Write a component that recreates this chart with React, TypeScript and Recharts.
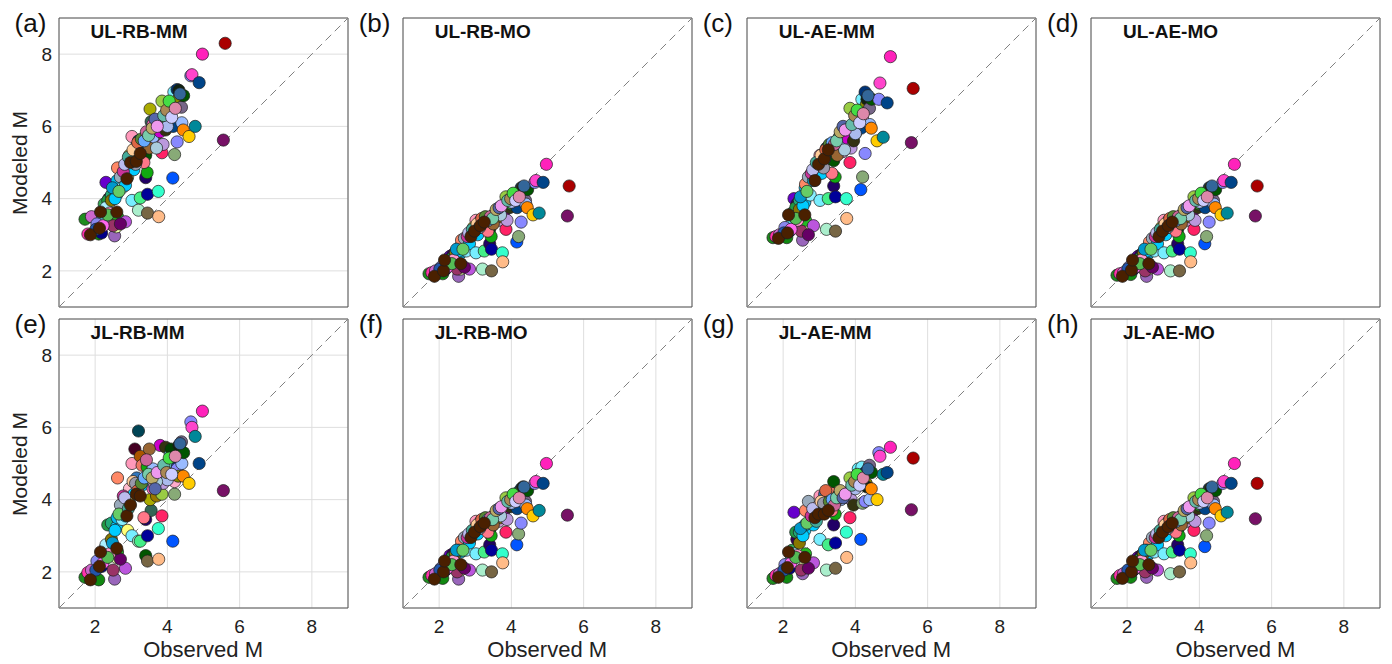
import { ScatterChart, Scatter, XAxis, YAxis, CartesianGrid, ReferenceLine, ReferenceArea } from 'recharts';

// observed magnitude per event (shared by all panels)
const obsM = [
  1.72, 1.80, 1.90, 2.10, 2.18, 2.20, 2.05, 2.25, 2.30, 2.38,
  2.35, 2.45, 2.54, 2.59, 2.62, 2.84, 2.50, 2.60, 2.61, 2.62,
  2.70, 2.75, 2.84, 2.90, 2.95, 3.02, 3.02, 3.07, 3.10, 3.20,
  3.25, 3.20, 3.25, 3.30, 3.30, 3.40, 3.40, 3.44, 3.45, 3.45,
  3.55, 3.52, 3.60, 3.65, 3.70, 3.60, 3.75, 3.76, 3.80, 3.85,
  3.85, 3.88, 3.95, 4.00, 4.08, 4.10, 4.15, 4.16, 4.18, 4.20,
  4.20, 4.27, 4.27, 4.30, 4.32, 4.39, 4.40, 4.44, 4.45, 4.60,
  4.65, 4.68, 4.77, 4.88, 4.97, 5.55, 5.60, 2.30, 2.70, 2.95,
  3.35, 3.15, 3.50, 2.45, 2.55, 4.00, 3.70,
  2.40, 2.48, 2.66, 2.78, 2.82, 2.92, 3.05, 3.12, 3.18, 3.28,
  3.36, 3.42, 3.48, 3.58, 3.66, 3.72, 3.90, 3.98, 4.05, 4.12,
  4.22, 4.35, 2.22, 2.02, 2.35,
  1.87, 2.12, 2.15, 2.60, 2.88, 2.98, 3.14, 3.25,
];

const pointColors = [
  '#1e8c1e', '#ff33aa', '#cc66cc', '#118811', '#000088', '#55ddee', '#8888ee', '#33aa55', '#6600cc', '#330055',
  '#229944', '#22aa77', '#9966bb', '#eeffaa', '#22bb22', '#bb55dd', '#993366', '#00ccff', '#00bbee', '#ff8866',
  '#99aabb', '#88eeff', '#00ccff', '#ffff77', '#ffbbcc', '#77eeff', '#ff99bb', '#00ccff', '#440022', '#aaeecc',
  '#44ee88', '#004455', '#aa5500', '#ee7766', '#00ccff', '#005500', '#220066', '#11aa11', '#000099', '#776644',
  '#336655', '#aaaa00', '#ff66bb', '#cc99cc', '#997700', '#99bbff', '#33ffcc', '#ffbb88', '#cc00cc', '#ff2266',
  '#99cc44', '#bb99dd', '#333311', '#229922', '#66eeff', '#004400', '#0055ff', '#004488', '#77eeff', '#88aa77',
  '#ffaacc', '#003377', '#8888ff', '#888800', '#112211', '#776688', '#99bbff', '#ff8800', '#005500', '#ffcc00',
  '#8888ff', '#ff44cc', '#008899', '#004488', '#ff22bb', '#771166', '#aa0000', '#aaf0ff', '#660066', '#ffee55',
  '#ff7788', '#3377bb', '#996633', '#887700', '#00ccff', '#aabbee', '#aaccdd',
  '#ff99cc', '#0099cc', '#66cc66', '#cc3399', '#bbbbee', '#44aa99', '#ffcc99', '#9999aa', '#dd6644', '#558833',
  '#66aaff', '#cc6699', '#77ccaa', '#bbaa66', '#5566aa', '#ee99ee', '#66bbaa', '#aa8855', '#44dd44', '#ccccff',
  '#dd88aa', '#336699', '#ff66ee', '#2255aa', '#55bb55',
  '#4a2000', '#4a2000', '#4a2000', '#4a2000', '#4a2000', '#4a2000', '#4a2000', '#4a2000',
];

const ulRbMm = [
  3.43, 3.02, 3.50, 3.02, 3.05, 3.42, 3.30, 3.85, 4.45, 4.00,
  3.95, 4.10, 2.97, 3.22, 3.50, 3.36, 3.25, 4.12, 4.50, 4.85,
  4.60, 4.30, 4.37, 4.60, 4.90, 3.95, 5.72, 4.80, 5.30, 3.68,
  4.02, 5.60, 5.10, 5.40, 5.45, 5.20, 4.58, 4.72, 4.12, 3.60,
  6.13, 6.48, 6.05, 5.50, 5.79, 5.70, 4.20, 3.50, 5.85, 5.27,
  6.70, 5.50, 5.90, 6.10, 6.36, 6.15, 4.57, 6.00, 6.95, 5.22,
  6.60, 7.02, 5.57, 6.75, 7.00, 6.53, 6.10, 5.90, 6.85, 5.72,
  7.40, 7.43, 6.00, 7.21, 8.00, 5.62, 8.30, 3.75, 3.30, 5.20,
  5.00, 5.45, 5.40, 3.95, 4.00, 6.00, 5.40,
  3.60, 4.30, 4.20, 4.75, 4.95, 5.15, 5.35, 4.95, 5.55, 5.65,
  5.60, 5.85, 5.75, 5.95, 6.20, 6.00, 6.30, 6.45, 6.70, 6.25,
  6.50, 6.90, 3.25, 3.15, 3.55,
  3.00, 3.18, 3.63, 3.63, 4.55, 5.00, 5.03, 5.25,
];

const ulRbMo = [
  1.92, 1.95, 2.00, 1.92, 2.05, 2.15, 2.10, 2.30, 2.40, 2.45,
  2.35, 2.45, 1.85, 2.05, 2.15, 2.05, 2.05, 2.50, 2.70, 2.85,
  2.90, 2.55, 2.75, 3.00, 3.10, 2.50, 3.40, 3.00, 3.20, 2.05,
  2.55, 3.30, 3.20, 3.20, 3.35, 3.15, 2.75, 2.95, 2.60, 2.00,
  3.60, 3.55, 3.55, 3.40, 3.50, 3.60, 2.50, 2.25, 3.65, 3.15,
  4.05, 3.40, 3.75, 3.85, 4.10, 3.85, 2.80, 3.75, 4.15, 2.95,
  4.00, 4.30, 3.35, 4.30, 4.30, 3.95, 3.85, 3.75, 4.25, 3.55,
  4.45, 4.50, 3.60, 4.45, 4.95, 3.52, 4.35, 2.25, 2.10, 3.20,
  3.10, 3.40, 3.30, 2.50, 2.55, 3.90, 3.55,
  2.30, 2.60, 2.60, 2.95, 3.05, 3.15, 3.30, 3.20, 3.45, 3.50,
  3.40, 3.50, 3.45, 3.70, 3.75, 3.80, 3.95, 4.00, 4.15, 3.95,
  4.05, 4.35, 2.10, 2.05, 2.20,
  1.85, 2.00, 2.30, 2.20, 2.95, 3.10, 3.25, 3.35,
];

const ulAeMm = [
  2.92, 2.95, 3.00, 2.92, 3.10, 3.25, 3.20, 3.60, 4.00, 3.85,
  3.75, 3.95, 2.85, 3.20, 3.40, 3.25, 3.10, 3.90, 4.30, 4.40,
  4.60, 4.10, 4.50, 4.60, 4.85, 3.95, 5.20, 4.70, 5.00, 3.15,
  4.00, 5.40, 5.10, 5.20, 5.30, 5.05, 4.35, 4.60, 4.05, 3.10,
  5.70, 5.45, 5.50, 5.30, 5.45, 5.60, 4.00, 3.45, 5.65, 5.00,
  6.50, 5.40, 5.60, 5.80, 6.20, 6.00, 4.25, 5.95, 6.75, 4.60,
  6.20, 6.95, 5.25, 6.60, 6.75, 6.50, 6.05, 5.95, 6.75, 5.60,
  6.75, 7.20, 5.70, 6.65, 7.93, 5.55, 7.05, 3.50, 3.00, 4.90,
  4.70, 5.10, 5.20, 3.70, 3.80, 5.80, 5.35,
  3.40, 4.05, 4.20, 4.70, 4.80, 5.00, 5.20, 4.85, 5.35, 5.50,
  5.55, 5.50, 5.60, 5.85, 6.00, 5.90, 6.05, 6.30, 6.45, 6.10,
  6.35, 6.85, 3.15, 3.05, 3.45,
  2.90, 3.05, 3.55, 3.55, 4.50, 4.95, 5.10, 5.35,
];

const ulAeMo = [
  1.88, 1.92, 1.95, 1.90, 2.05, 2.15, 2.10, 2.30, 2.40, 2.45,
  2.35, 2.45, 1.85, 2.05, 2.15, 2.05, 2.00, 2.50, 2.65, 2.80,
  2.90, 2.55, 2.75, 3.00, 3.10, 2.50, 3.40, 3.00, 3.20, 2.00,
  2.55, 3.30, 3.20, 3.20, 3.35, 3.15, 2.75, 2.95, 2.60, 2.00,
  3.60, 3.55, 3.55, 3.40, 3.50, 3.60, 2.50, 2.25, 3.60, 3.15,
  4.05, 3.40, 3.75, 3.85, 4.10, 3.85, 2.75, 3.75, 4.15, 2.95,
  4.00, 4.30, 3.35, 4.30, 4.30, 3.95, 3.85, 3.75, 4.25, 3.55,
  4.45, 4.50, 3.60, 4.45, 4.95, 3.52, 4.35, 2.25, 2.10, 3.20,
  3.10, 3.40, 3.30, 2.50, 2.55, 3.90, 3.55,
  2.30, 2.60, 2.60, 2.95, 3.05, 3.15, 3.30, 3.20, 3.45, 3.50,
  3.40, 3.50, 3.45, 3.70, 3.75, 3.80, 3.95, 4.00, 4.15, 3.95,
  4.05, 4.35, 2.10, 2.05, 2.20,
  1.85, 2.02, 2.30, 2.20, 2.95, 3.10, 3.25, 3.35,
];

const jlRbMm = [
  1.85, 1.98, 2.05, 1.78, 2.15, 2.35, 2.30, 2.60, 2.70, 2.70,
  3.30, 3.35, 1.80, 2.40, 2.55, 2.10, 2.05, 3.25, 3.50, 4.60,
  3.85, 3.45, 3.55, 3.15, 4.30, 3.00, 5.00, 4.15, 5.40, 2.85,
  2.85, 5.90, 5.20, 4.95, 4.40, 2.45, 3.45, 4.90, 3.00, 2.30,
  3.70, 4.00, 4.30, 4.40, 4.10, 4.85, 3.20, 2.35, 5.50, 3.55,
  4.15, 4.45, 5.45, 5.00, 5.25, 5.40, 2.85, 4.85, 5.00, 4.15,
  4.50, 4.90, 4.85, 4.65, 5.50, 5.60, 5.00, 4.65, 5.30, 4.45,
  6.15, 6.00, 5.75, 5.00, 6.45, 4.25, null, 2.75, 2.35, 3.90,
  3.50, 4.60, 5.40, 2.90, 3.15, 4.55, 4.50,
  2.50, 2.80, 3.60, 4.10, 4.05, 3.75, 4.50, 4.45, 4.25, 4.45,
  4.60, 5.10, 4.70, 4.60, 4.30, 4.75, 4.95, 4.75, 5.15, 4.70,
  5.20, 5.55, 2.25, 2.05, 2.40,
  1.78, 2.15, 2.55, 2.65, 3.55, 3.85, 4.15, 4.10,
];

const jlRbMo = [
  1.85, 1.90, 1.95, 1.82, 2.05, 2.12, 2.10, 2.35, 2.45, 2.50,
  2.40, 2.50, 1.80, 2.05, 2.15, 2.05, 2.00, 2.55, 2.70, 2.85,
  2.95, 2.60, 2.80, 3.00, 3.10, 2.50, 3.40, 3.05, 3.25, 2.05,
  2.55, 3.35, 3.20, 3.20, 3.40, 3.15, 2.75, 3.00, 2.60, 2.00,
  3.60, 3.55, 3.55, 3.40, 3.50, 3.65, 2.50, 2.25, 3.70, 3.10,
  4.05, 3.45, 3.80, 3.90, 4.10, 3.85, 2.75, 3.75, 4.20, 3.05,
  4.00, 4.30, 3.35, 4.30, 4.35, 3.95, 3.85, 3.75, 4.25, 3.55,
  4.45, 4.50, 3.70, 4.45, 5.00, 3.57, null, 2.25, 2.10, 3.15,
  3.10, 3.40, 3.30, 2.50, 2.60, 3.90, 3.55,
  2.30, 2.60, 2.60, 2.95, 3.05, 3.15, 3.30, 3.20, 3.45, 3.50,
  3.45, 3.50, 3.45, 3.70, 3.75, 3.80, 3.95, 4.00, 4.15, 3.95,
  4.05, 4.35, 2.10, 2.05, 2.20,
  1.80, 2.00, 2.30, 2.20, 2.95, 3.10, 3.25, 3.35,
];

const jlAeMm = [
  1.82, 1.90, 1.95, 1.85, 2.10, 2.30, 2.20, 2.60, 3.65, 2.90,
  3.10, 3.10, 1.95, 2.15, 2.50, 2.25, 2.05, 3.15, 3.30, 3.70,
  3.95, 3.40, 3.30, 3.45, 3.80, 2.90, 4.10, 3.70, 3.95, 2.05,
  2.75, 4.10, 4.05, 4.20, 3.80, 4.50, 3.30, 3.60, 2.80, 2.10,
  4.15, 4.10, 4.20, 4.05, 4.10, 4.00, 3.10, 2.40, 4.20, 3.50,
  4.60, 4.00, 3.85, 4.35, 4.85, 4.60, 2.90, 4.55, 4.90, 3.90,
  4.55, 4.75, 3.95, 4.45, 4.35, 4.95, 4.00, 4.30, 4.75, 4.00,
  5.30, 5.20, 4.70, 4.75, 5.45, 3.72, 5.15, 2.50, 2.10, 3.55,
  3.70, 4.15, 4.00, 2.80, 3.00, 4.30, 4.10,
  2.45, 3.20, 3.35, 3.55, 3.75, 3.40, 3.95, 3.90, 4.25, 3.95,
  4.00, 3.85, 4.05, 4.25, 4.05, 4.15, 4.40, 4.50, 4.70, 4.40,
  4.60, 4.85, 2.25, 2.05, 2.40,
  1.85, 2.12, 2.55, 2.40, 3.50, 3.60, 3.60, 3.70,
];

const jlAeMo = [
  1.82, 1.90, 1.95, 1.85, 2.05, 2.10, 2.05, 2.30, 2.40, 2.45,
  2.35, 2.50, 1.85, 2.05, 2.15, 2.05, 2.00, 2.50, 2.65, 2.80,
  2.95, 2.55, 2.75, 3.00, 3.10, 2.50, 3.40, 3.00, 3.25, 1.95,
  2.55, 3.30, 3.20, 3.20, 3.35, 3.15, 2.75, 3.00, 2.60, 2.00,
  3.60, 3.55, 3.55, 3.40, 3.50, 3.60, 2.50, 2.25, 3.65, 3.15,
  4.05, 3.40, 3.75, 3.85, 4.10, 3.85, 2.70, 3.75, 4.15, 3.00,
  4.00, 4.30, 3.35, 4.30, 4.30, 3.95, 3.85, 3.75, 4.25, 3.55,
  4.45, 4.50, 3.65, 4.45, 5.00, 3.47, 4.45, 2.25, 2.10, 3.15,
  3.10, 3.40, 3.30, 2.50, 2.60, 3.90, 3.55,
  2.30, 2.60, 2.60, 2.95, 3.05, 3.15, 3.30, 3.20, 3.45, 3.50,
  3.40, 3.50, 3.45, 3.70, 3.75, 3.80, 3.95, 4.00, 4.15, 3.95,
  4.05, 4.35, 2.10, 2.05, 2.20,
  1.82, 2.00, 2.30, 2.20, 2.95, 3.10, 3.25, 3.35,
];

const axisTicks = [2, 4, 6, 8];
const panelLetters = ['(a)', '(b)', '(c)', '(d)', '(e)', '(f)', '(g)', '(h)'];
const panelTitles = ['UL-RB-MM', 'UL-RB-MO', 'UL-AE-MM', 'UL-AE-MO', 'JL-RB-MM', 'JL-RB-MO', 'JL-AE-MM', 'JL-AE-MO'];
const panelValues = [ulRbMm, ulRbMo, ulAeMm, ulAeMo, jlRbMm, jlRbMo, jlAeMm, jlAeMo];

const PLOT = 289;
const AXIS_W = 60;
const AXIS_H = 40;
const colLeft = [58.6, 402.7, 746.7, 1091];
const rowTop = [18, 319];
const FONT = '"Liberation Sans", Arial, Helvetica, sans-serif';

const Dot = (props: any) => {
  const { cx, cy, payload } = props;
  if (cx == null || cy == null) return <g />;
  return <circle cx={cx} cy={cy} r={6.1} fill={payload.color} stroke="#1c1c1c" strokeWidth={0.7} />;
};

const Panel = ({ idx }: { idx: number }) => {
  const col = idx % 4;
  const row = Math.floor(idx / 4);
  const left = colLeft[col];
  const top = rowTop[row];
  const values = panelValues[idx];
  const data = obsM
    .map((x, i) => ({ x, y: values[i], color: pointColors[i] }))
    .filter((d) => d.y != null);

  return (
    <>
      <div style={{ position: 'absolute', left: left - AXIS_W, top: top - 5 }}>
        <ScatterChart
          width={AXIS_W + PLOT + 10}
          height={5 + PLOT + AXIS_H}
          margin={{ top: 5, right: 10, bottom: 0, left: 0 }}
        >
          <CartesianGrid stroke="#dedede" />
          <XAxis
            type="number"
            dataKey="x"
            domain={[1, 9]}
            ticks={axisTicks}
            allowDataOverflow
            height={AXIS_H}
            axisLine={false}
            tickLine={false}
            tickMargin={6}
            tick={row === 1 ? { fontSize: 19, fill: '#222', fontFamily: FONT } : false}
          />
          <YAxis
            type="number"
            dataKey="y"
            domain={[1, 9]}
            ticks={axisTicks}
            allowDataOverflow
            width={AXIS_W}
            axisLine={false}
            tickLine={false}
            tickMargin={1}
            tick={col === 0 ? { fontSize: 19, fill: '#222', fontFamily: FONT } : false}
          />
          <ReferenceLine
            segment={[{ x: 1, y: 1 }, { x: 9, y: 9 }]}
            stroke="#808080"
            strokeWidth={1}
            strokeDasharray="8 5"
          />
          <Scatter data={data} shape={Dot} isAnimationActive={false} />
          <ReferenceArea x1={1} x2={9} y1={1} y2={9} fill="none" fillOpacity={0} stroke="#555" strokeWidth={1} />
        </ScatterChart>
      </div>
      <div style={{ position: 'absolute', left: left - 44, top: top - 8, fontSize: 26, lineHeight: '26px', color: '#111', fontFamily: FONT }}>
        {panelLetters[idx]}
      </div>
      <div style={{ position: 'absolute', left: left + 32, top: top + 4, fontSize: 19, lineHeight: '20px', fontWeight: 'bold', color: '#111', fontFamily: FONT }}>
        {panelTitles[idx]}
      </div>
      {col === 0 && (
        <div style={{ position: 'absolute', left: 20, top: top + PLOT / 2, transform: 'translate(-50%, -50%) rotate(-90deg)', fontSize: 21, whiteSpace: 'nowrap', color: '#222', fontFamily: FONT }}>
          Modeled M
        </div>
      )}
      {row === 1 && (
        <div style={{ position: 'absolute', left: left + PLOT / 2, top: 650, transform: 'translate(-50%, -50%)', fontSize: 22, whiteSpace: 'nowrap', color: '#222', fontFamily: FONT }}>
          Observed M
        </div>
      )}
    </>
  );
};

export default function App() {
  return (
    <div style={{ position: 'relative', width: 1392, height: 664, background: '#fff', overflow: 'hidden' }}>
      <style>{'body { margin: 0; }'}</style>
      {panelTitles.map((_, i) => (
        <Panel key={i} idx={i} />
      ))}
    </div>
  );
}
